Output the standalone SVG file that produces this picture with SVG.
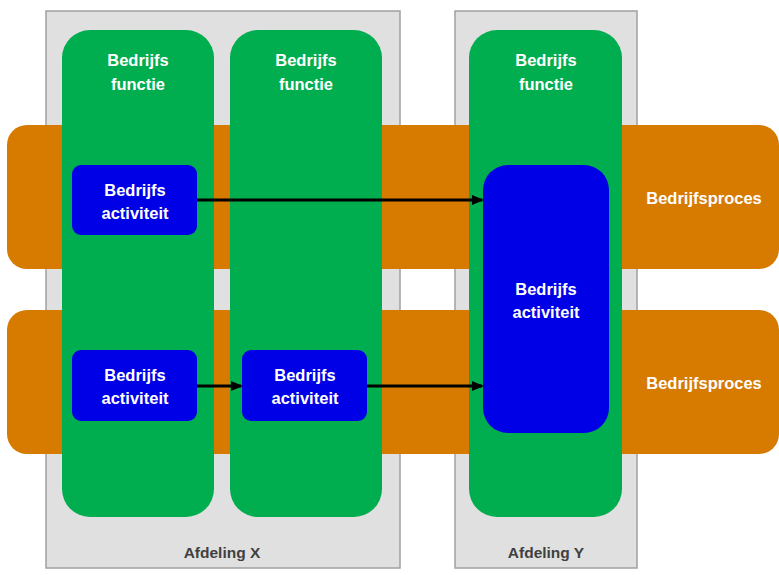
<svg xmlns="http://www.w3.org/2000/svg" width="779" height="575" viewBox="0 0 779 575">
<style>
.dept{fill:#e0e0e0;stroke:#a0a0a0;stroke-width:1.5}
.proc{fill:#d67a00}
.func{fill:#00ad4f}
.act{fill:#0000e6}
.t{font-family:"Liberation Sans",Arial,sans-serif;font-weight:bold;font-size:16.5px;fill:#ffffff;text-anchor:middle}
.d{font-family:"Liberation Sans",Arial,sans-serif;font-weight:bold;font-size:15.5px;fill:#404040;text-anchor:middle}
.c{stroke:#000;stroke-width:3;fill:none;marker-end:url(#ah)}
</style>
<defs>
<marker id="ah" markerWidth="12" markerHeight="12" refX="10" refY="6" orient="auto" markerUnits="userSpaceOnUse">
<path d="M0,1 L12,6 L0,11 z" fill="#000"/>
</marker>
</defs>
<g id="afdeling-x"><rect class="dept" x="46" y="11" width="354" height="557"/><text class="d" x="222" y="558">Afdeling X</text></g>
<g id="afdeling-y"><rect class="dept" x="455" y="11" width="182" height="557"/><text class="d" x="546" y="558">Afdeling Y</text></g>
<g id="proces-1"><rect class="proc" x="7" y="125" width="772" height="144" rx="20"/><text class="t" x="704" y="204">Bedrijfsproces</text></g>
<g id="proces-2"><rect class="proc" x="7" y="310" width="772" height="144" rx="20"/><text class="t" x="704" y="389">Bedrijfsproces</text></g>
<g id="functie-1"><rect class="func" x="62" y="30" width="152" height="487" rx="28"/><text class="t" x="138" y="66">Bedrijfs</text><text class="t" x="138" y="90">functie</text></g>
<g id="functie-2"><rect class="func" x="230" y="30" width="152" height="487" rx="28"/><text class="t" x="306" y="66">Bedrijfs</text><text class="t" x="306" y="90">functie</text></g>
<g id="functie-3"><rect class="func" x="469" y="30" width="153" height="487" rx="28"/><text class="t" x="546" y="66">Bedrijfs</text><text class="t" x="546" y="90">functie</text></g>
<g id="activiteit-1"><rect class="act" x="72" y="165" width="125" height="70" rx="9"/><text class="t" x="135" y="196">Bedrijfs</text><text class="t" x="135" y="219">activiteit</text></g>
<g id="activiteit-2"><rect class="act" x="72" y="350" width="125" height="71" rx="9"/><text class="t" x="135" y="381">Bedrijfs</text><text class="t" x="135" y="404">activiteit</text></g>
<g id="activiteit-3"><rect class="act" x="242" y="350" width="125" height="71" rx="9"/><text class="t" x="305" y="381">Bedrijfs</text><text class="t" x="305" y="404">activiteit</text></g>
<g id="activiteit-4"><rect class="act" x="483" y="165" width="126" height="268" rx="25"/><text class="t" x="546" y="295">Bedrijfs</text><text class="t" x="546" y="318">activiteit</text></g>
<g id="connectors">
<line class="c" x1="197" y1="200" x2="482" y2="200"/>
<line class="c" x1="197" y1="386" x2="241" y2="386"/>
<line class="c" x1="367" y1="386" x2="482" y2="386"/>
</g>
</svg>
